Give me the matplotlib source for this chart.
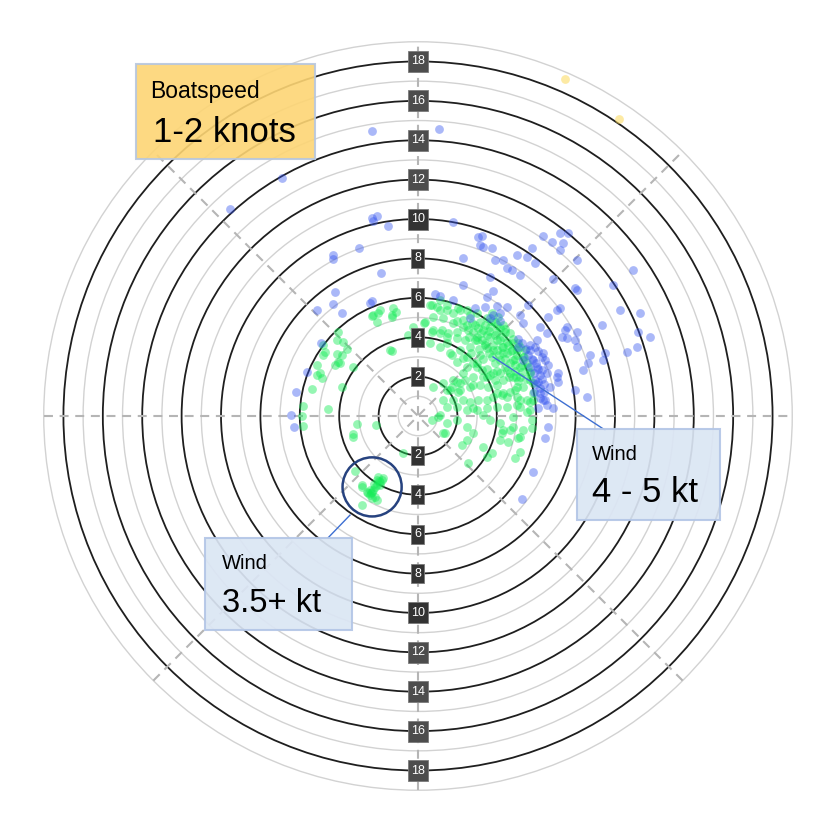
import numpy as np
import matplotlib.pyplot as plt
from matplotlib.patches import Circle, Rectangle
from matplotlib.transforms import ScaledTranslation

plt.rcParams['font.family'] = ['Liberation Sans', 'DejaVu Sans']

# ring values (knots)
ring_labels = [2, 4, 6, 8, 10, 12, 14, 16, 18]
minor_rings = [1, 3, 5, 7, 9, 11, 13, 15, 17, 19]

# boat velocity components (east, north) in knots
# wind 3.5+ kt (green)
green_pts = np.array([
    (-2.28, 5.13), (-2.03, 5.23), (-1.93, 5.38), (-2.08, 4.77), (-1.27, 5.48), (-1.12, 5.28), (-1.32, 5.03),
    (-4.06, 4.26), (-4.11, 3.86), (-3.81, 3.76), (-3.60, 3.40), (-3.86, 3.10), (-4.82, 3.60), (-4.72, 3.25),
    (-4.82, 3.10), (-4.11, 3.15), (-4.06, 2.74), (-4.21, 2.59), (-3.96, 2.69), (-5.13, 2.59), (-5.13, 2.08),
    (-4.97, 2.18), (-4.87, 1.93), (-3.30, 2.49), (-3.86, 1.47), (-5.38, 1.37), (-5.84, 0.51), (-4.57, 0.36),
    (-5.89, 0.00), (-5.84, -0.51), (-1.32, 3.30), (-3.10, -0.41), (-2.13, -0.46), (-3.30, -0.91), (-3.30, -1.07),
    (-0.76, -1.88), (-3.20, -2.79), (-0.51, 4.11), (-0.25, 4.52), (0.30, 4.72), (-1.42, 3.35), (-1.32, 5.13),
    (-2.34, 5.08),
    # circled group
    (-2.84, -3.50), (-2.54, -3.91), (-2.34, -3.86), (-2.18, -4.11), (-1.93, -3.50), (-1.78, -3.15),
    (-1.83, -3.25), (-2.08, -3.25), (-2.44, -3.76), (-2.84, -4.52), (-2.59, -3.86), (-2.44, -4.01),
    (-2.28, -3.76), (-2.08, -3.50), (-2.03, -3.10), (-2.34, -4.16), (-2.08, -4.26), (-2.84, -3.60),
    (-2.20, -3.60), (-2.00, -3.30), (-2.40, -3.90), (-2.25, -3.45), (-1.95, -3.35),
    # main group
    (0.71, 5.63), (1.12, 5.38), (1.47, 5.63), (1.78, 5.23), (2.03, 5.48), (2.49, 5.38), (0.36, 4.77),
    (0.71, 4.26), (1.22, 4.37), (1.52, 4.21), (1.98, 4.26), (1.47, 3.71),
    (1.73, 3.10), (1.98, 2.74), (2.28, 2.94), (2.49, 2.49), (3.00, 2.69), (3.25, 2.34), (2.79, 1.98),
    (2.39, 1.83), (1.98, 1.73), (1.73, 1.47), (1.47, 1.32), (2.13, 1.32), (2.64, 1.47), (3.15, 1.57),
    (3.55, 1.47), (3.50, 1.98), (3.91, 1.83), (4.16, 2.18), (4.52, 2.34), (4.82, 1.98), (5.03, 1.47),
    (4.67, 1.22), (4.26, 1.07), (3.81, 0.96), (3.50, 0.81), (3.05, 0.81), (2.64, 0.71), (2.28, 0.81),
    (1.78, 0.81), (1.47, 0.46), (1.98, 0.46), (2.49, 0.30), (3.00, 0.30), (3.50, 0.41), (4.01, 0.46),
    (4.52, 0.46), (5.03, 0.56), (5.53, 0.81), (5.84, 1.17), (5.84, 1.68), (5.69, 2.23), (5.18, 2.49),
    (4.82, 2.84), (4.31, 3.20), (3.81, 3.35), (3.40, 3.60), (3.00, 3.86), (3.50, 4.11), (4.01, 4.26),
    (4.16, 3.86), (4.57, 3.60), (5.03, 3.35), (5.33, 3.00),
    (1.27, -0.86), (2.49, -0.56), (2.79, -0.86), (3.30, -1.57), (3.76, -1.88), (4.31, -0.71), (4.82, -0.56),
    (5.18, -1.07), (4.16, -1.22), (2.49, -1.22), (1.98, -0.20), (1.47, -0.36), (1.02, -0.05), (0.71, -0.20),
    (2.54, -2.39), (3.50, -2.08),
    (1.37, -0.86), (2.23, -1.47), (4.57, -1.32), (5.08, -1.12), (5.18, -1.83), (4.92, -2.13), (4.26, -0.86),
    (4.67, -0.71), (5.33, -0.71), (5.79, -0.61), (5.79, -0.20), (5.53, 0.20), (4.82, -0.05), (4.16, -0.36),
    (3.65, -0.20), (3.30, 0.05), (2.79, 0.41), (1.12, 0.05), (2.03, 1.22), (4.01, 1.57), (4.31, 1.17),
    (4.92, 1.32), (5.18, 0.81), (5.69, 0.71), (1.62, 1.32), (1.27, 1.68), (2.13, 1.68), (3.65, 2.08),
    (4.67, 2.18), (5.18, 1.98),
    (0.61, 5.63), (0.96, 5.53), (1.12, 5.89), (1.47, 5.38), (2.13, 5.38), (0.76, 5.03), (1.27, 4.97),
    (1.78, 4.72), (2.28, 4.87), (2.64, 5.13), (3.00, 5.23), (2.74, 4.72), (3.15, 4.77), (3.50, 4.97),
    (3.76, 5.23), (4.06, 5.03), (2.79, 4.26), (3.30, 4.37), (3.65, 4.52), (4.16, 4.47), (4.42, 4.26),
    (4.67, 4.21), (3.25, 3.86), (3.65, 4.01), (4.01, 3.86), (4.52, 3.76), (4.82, 3.71), (5.18, 3.50),
    (3.50, 3.45), (4.01, 3.35), (4.52, 3.20), (5.03, 3.10), (5.53, 2.69), (4.16, 2.84), (4.67, 2.69),
    (5.69, 2.18), (5.69, 1.83), (5.33, 1.47), (4.31, 1.83), (3.81, 2.18), (2.79, 2.69), (2.49, 3.00),
    (2.13, 3.35), (2.64, 3.50), (1.98, 3.96), (1.47, 4.01), (1.12, 4.21), (0.76, 4.37), (0.61, 3.71),
    (1.12, 3.50), (1.62, 3.20), (2.28, 2.18), (1.78, 1.83), (2.79, 1.57), (4.01, 1.17), (4.52, 0.96),
    (5.03, 0.96), (5.84, 0.81), (5.69, 0.30), (5.18, 0.46), (1.27, 0.81), (0.76, 1.47),
    (3.05, 4.47), (3.40, 4.62), (3.91, 4.77), (4.31, 4.62), (2.89, 3.86), (4.26, 3.50), (4.77, 3.35),
    (3.76, 3.00), (3.15, 3.10), (4.92, 2.59), (5.28, 2.23), (2.54, 4.37), (2.39, 3.86), (5.43, 3.35),
    (2.90, 4.60), (3.20, 4.20), (3.60, 4.30), (3.90, 4.10), (4.30, 4.00), (3.00, 4.00), (3.40, 3.70),
    (3.80, 3.60), (4.30, 3.50), (4.70, 3.30), (3.10, 3.40), (3.60, 3.20), (4.10, 3.10), (4.40, 2.90),
    (4.90, 2.90), (3.30, 2.90), (3.90, 2.70), (4.40, 2.50), (4.90, 2.30), (5.30, 2.60), (2.70, 3.20),
    (3.00, 2.50), (3.50, 2.40), (4.00, 2.30), (4.60, 2.00), (5.10, 1.80), (5.50, 1.90), (3.30, 2.00),
    (2.60, 4.00), (2.30, 4.50), (2.00, 4.80), (2.50, 4.60), (4.80, 3.90), (5.10, 3.70), (4.40, 4.40),
    (4.00, 4.60), (3.70, 4.80), (5.40, 3.00), (5.60, 2.50), (5.00, 2.00),
])

# wind 4 - 5 kt (blue)
blue_pts = np.array([
    (-4.21, 6.29), (-4.31, 5.69), (-5.13, 5.38), (-3.86, 5.23), (-2.44, 5.74), (-2.34, 5.84), (-4.92, 3.71),
    (-5.63, 2.23), (-6.19, 1.22), (-6.45, 0.05), (-6.29, -0.56), (-2.34, 14.47), (-6.90, 12.08),
    (-9.54, 10.51), (-2.34, 10.05), (-2.08, 10.15), (-2.28, 9.90), (-1.52, 9.64), (-3.00, 8.53),
    (-4.31, 8.17), (-4.31, 7.97), (-1.88, 7.26), (1.07, 14.57),
    (1.78, 9.85), (3.05, 9.09), (3.25, 9.14), (3.15, 8.68), (3.30, 8.58), (3.76, 8.53), (2.28, 8.02),
    (3.91, 7.92), (4.31, 7.92), (4.52, 7.51), (4.77, 7.41), (5.18, 7.16), (5.03, 8.17), (5.53, 8.07),
    (5.94, 7.77), (5.79, 8.53), (6.35, 9.14), (6.80, 8.83), (7.21, 9.29), (7.61, 9.29), (7.36, 8.78),
    (7.21, 8.43), (8.07, 7.92), (6.85, 6.95), (2.28, 6.65), (3.65, 7.06), (3.81, 6.35), (0.86, 6.19),
    (1.12, 6.09), (1.78, 5.89), (3.50, 6.04), (3.40, 5.53), (4.01, 5.58), (4.52, 5.53), (4.16, 5.23),
    (5.18, 5.13), (5.58, 5.63), (5.33, 4.72), (7.06, 5.38), (7.21, 5.48), (6.60, 5.03), (7.97, 6.50),
    (8.07, 6.40), (9.90, 6.65), (10.25, 5.38), (10.91, 7.41), (11.27, 5.23), (11.17, 4.26), (11.78, 4.01),
    (11.12, 3.50), (10.61, 3.25), (9.34, 4.62), (9.39, 2.84), (9.49, 3.20), (8.73, 3.10), (8.38, 2.34),
    (8.63, 2.69), (8.07, 3.50), (7.97, 3.86), (7.46, 4.37), (7.56, 4.52), (8.07, 4.26), (6.04, 3.86),
    (5.94, 3.50), (5.69, 3.35), (6.35, 3.20), (6.45, 2.84), (5.84, 2.84), (6.04, 2.49), (6.29, 2.34),
    (5.69, 2.49), (5.94, 1.83), (6.09, 1.73), (5.33, 2.84), (5.08, 3.50), (6.55, 2.18), (7.06, 1.98),
    (7.11, 1.73), (6.70, 1.47), (6.45, 0.81), (6.55, 0.56), (6.09, 0.41), (6.85, 0.41), (7.31, 4.01),
    (7.56, 3.96), (6.55, 4.21), (6.19, 4.52), (7.97, 1.32), (8.58, 0.96), (4.16, 4.82), (3.81, 5.13),
    (3.65, 4.97), (2.64, 4.97), (2.89, 5.48), (5.84, -2.84), (5.28, -4.21), (6.45, -1.12), (6.60, -0.56),
    (7.11, 2.18), (6.35, 0.81), (6.19, 1.17),
    (5.60, 3.10), (5.80, 2.90), (6.00, 2.70), (6.10, 2.40), (6.20, 2.10), (6.30, 1.90), (5.90, 2.20),
    (6.00, 1.60), (6.20, 1.40), (5.50, 3.40), (5.30, 3.70), (5.10, 3.90), (6.40, 1.20), (6.60, 2.60),
    (6.30, 3.00), (6.10, 3.30), (5.70, 3.60), (6.40, 1.60), (5.90, 1.20), (6.20, 0.90),
])

# boatspeed 1-2 knots (yellow)
yellow_pts = np.array([(7.46, 17.11), (10.20, 15.08)])

fig = plt.figure(figsize=(8.35, 8.31), dpi=100)
ax = fig.add_axes([0, 0, 1, 1])
ax.set_xlim(-21.22, 21.17)
ax.set_ylim(-21.07, 21.12)
ax.axis('off')

for r in minor_rings:
    ax.add_patch(Circle((0, 0), r, fill=False, ec='#d2d2d2', lw=1.0, zorder=1))
for r in ring_labels:
    ax.add_patch(Circle((0, 0), r, fill=False, ec='#1e1e1e', lw=1.3, zorder=1))

# dashed spokes
for ang in [0, 45, 90, 135]:
    c, s = np.cos(np.radians(ang)), np.sin(np.radians(ang))
    ax.plot([-19 * c, 19 * c], [-19 * s, 19 * s], color='#b5b5b5', lw=1.5,
            ls=(0, (4.3, 3.2)), zorder=1.5)

ax.scatter(green_pts[:, 0], green_pts[:, 1], s=40, c='#16ec58', alpha=0.45, lw=0, zorder=3)
ax.scatter(blue_pts[:, 0], blue_pts[:, 1], s=40, c='#3656f0', alpha=0.42, lw=0, zorder=3)
ax.scatter(yellow_pts[:, 0], yellow_pts[:, 1], s=40, c='#fcd95a', alpha=0.55, lw=0, zorder=3)

# ring labels on the vertical axis (boxes sized in inches)
for r in ring_labels:
    fc = '#333333' if r <= 10 else '#4d4d4d'
    w, h = (0.13, 0.19) if r < 10 else (0.20, 0.21)
    for sgn in (1, -1):
        tr = fig.dpi_scale_trans + ScaledTranslation(0, sgn * r, ax.transData)
        ax.add_patch(Rectangle((-w / 2, -h / 2), w, h, transform=tr, fc=fc, ec='#7a7a7a',
                               lw=0.6, zorder=5))
        ax.text(0, sgn * r, str(r), ha='center', va='center', color='white', fontsize=9, zorder=5.5)

# call-outs
ax.plot([3.81, 9.49], [3.0, -0.71], color='#3d6fd2', lw=1, zorder=4)
ax.plot([-3.45, -4.57], [-5.03, -6.19], color='#3d6fd2', lw=1, zorder=4)
ax.add_patch(Circle((-2.33, -3.6), 1.5, fill=False, ec='#26427f', lw=1.8, zorder=4))

ax.add_patch(Rectangle((0.163, 0.809), 0.214, 0.114, transform=ax.transAxes, fc='#fdd574',
                       ec='#b7c7de', lw=1.5, alpha=0.9, zorder=6))
ax.text(0.180, 0.882, 'Boatspeed', transform=ax.transAxes, fontsize=16.5, va='baseline', zorder=7)
ax.text(0.183, 0.829, '1-2 knots', transform=ax.transAxes, fontsize=25, va='baseline', zorder=7)

ax.add_patch(Rectangle((0.691, 0.374), 0.171, 0.110, transform=ax.transAxes, fc='#dbe6f4',
                       ec='#b3c6e6', lw=1.5, alpha=0.92, zorder=6))
ax.text(0.709, 0.446, 'Wind', transform=ax.transAxes, fontsize=14.5, va='baseline', zorder=7)
ax.text(0.709, 0.396, '4 - 5 kt', transform=ax.transAxes, fontsize=25, va='baseline', zorder=7)

ax.add_patch(Rectangle((0.2455, 0.2419), 0.176, 0.1107, transform=ax.transAxes, fc='#dbe6f4',
                       ec='#b3c6e6', lw=1.5, alpha=0.92, zorder=6))
ax.text(0.266, 0.315, 'Wind', transform=ax.transAxes, fontsize=14.5, va='baseline', zorder=7)
ax.text(0.266, 0.2635, '3.5+ kt', transform=ax.transAxes, fontsize=23.5, va='baseline', zorder=7)

fig.savefig('out.png', dpi=100)
